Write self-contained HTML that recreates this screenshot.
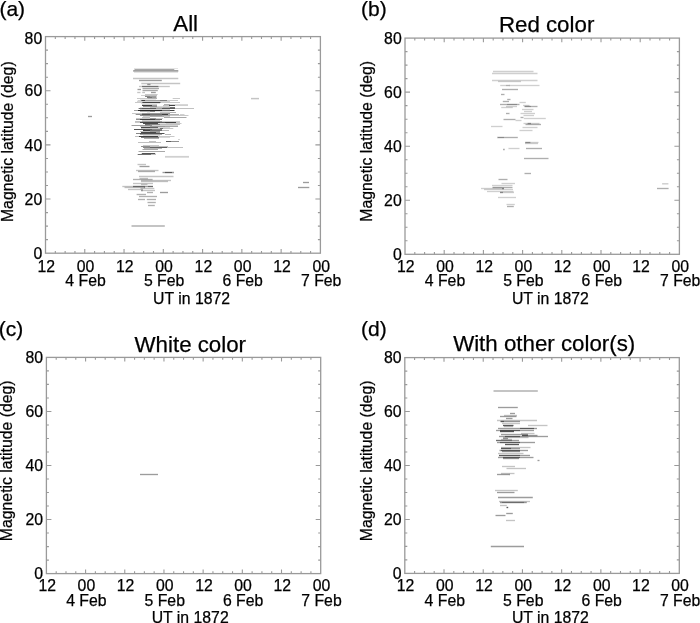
<!DOCTYPE html>
<html><head><meta charset="utf-8"><style>
html,body{margin:0;padding:0;background:#fff;}
body{width:700px;height:623px;overflow:hidden;}
svg{display:block;will-change:transform;}
text{font-family:"Liberation Sans", sans-serif;fill:#000;stroke:#000;stroke-width:0.25px;}
</style></head><body>
<svg width="700" height="623" viewBox="0 0 700 623">
<g stroke="#000"><path d="M134 68.5H178" stroke-opacity="0.106" stroke-width="1"/>
<path d="M134.5 69.5H174.3" stroke-opacity="0.341" stroke-width="1"/>
<path d="M133.2 70.5H178.3" stroke-opacity="0.373" stroke-width="1"/>
<path d="M133.2 71.5H178.3" stroke-opacity="0.278" stroke-width="1"/>
<path d="M134 72.5H178" stroke-opacity="0.106" stroke-width="1"/>
<path d="M133 78.5H178.3" stroke-opacity="0.231" stroke-width="1.35"/>
<path d="M139 80.5H161.8" stroke-opacity="0.388" stroke-width="1.35"/>
<path d="M141.3 83.5H180.2" stroke-opacity="0.231" stroke-width="1.35"/>
<path d="M147.2 84.5H150.5" stroke-opacity="0.388" stroke-width="1.35"/>
<path d="M139 86.5H142" stroke-opacity="0.231" stroke-width="1.35"/>
<path d="M142 86.5H158.5" stroke-opacity="0.561" stroke-width="1.35"/>
<path d="M158.5 86.5H169.8" stroke-opacity="0.231" stroke-width="1.35"/>
<path d="M142.5 88.5H159" stroke-opacity="0.341" stroke-width="1.35"/>
<path d="M137.5 89.5H141" stroke-opacity="0.388" stroke-width="1.35"/>
<path d="M142.5 90.5H157.8" stroke-opacity="0.341" stroke-width="1.35"/>
<path d="M137.2 92.5H140.5" stroke-opacity="0.231" stroke-width="1.35"/>
<path d="M142.2 92.5H145" stroke-opacity="0.231" stroke-width="1.35"/>
<path d="M151 92.5H155.8" stroke-opacity="0.388" stroke-width="1.35"/>
<path d="M145 94.5H157.7" stroke-opacity="0.216" stroke-width="1"/>
<path d="M141 95.5H145" stroke-opacity="0.184" stroke-width="1"/>
<path d="M145 95.5H157" stroke-opacity="0.247" stroke-width="1"/>
<path d="M145 96.5H150" stroke-opacity="0.467" stroke-width="1"/>
<path d="M150 96.5H156.5" stroke-opacity="0.373" stroke-width="1"/>
<path d="M147 97.5H152" stroke-opacity="0.533" stroke-width="1"/>
<path d="M152 97.5H156.5" stroke-opacity="0.400" stroke-width="1"/>
<path d="M137 98.5H147.5" stroke-opacity="0.216" stroke-width="1"/>
<path d="M147.5 98.5H157" stroke-opacity="0.294" stroke-width="1"/>
<path d="M172.7 98.5H180" stroke-opacity="0.216" stroke-width="1"/>
<path d="M140 99.5H156" stroke-opacity="0.090" stroke-width="1"/>
<path d="M137.7 100.5H141.3" stroke-opacity="0.184" stroke-width="1"/>
<path d="M141.3 100.5H145" stroke-opacity="0.729" stroke-width="1"/>
<path d="M145 100.5H160" stroke-opacity="0.373" stroke-width="1"/>
<path d="M160 100.5H167" stroke-opacity="0.498" stroke-width="1"/>
<path d="M167 100.5H170" stroke-opacity="0.184" stroke-width="1"/>
<path d="M170 100.5H178" stroke-opacity="0.216" stroke-width="1"/>
<path d="M137 101.5H170" stroke-opacity="0.169" stroke-width="1"/>
<path d="M135 102.5H142.3" stroke-opacity="0.216" stroke-width="1"/>
<path d="M142.3 102.5H160.5" stroke-opacity="0.729" stroke-width="1"/>
<path d="M160.5 102.5H180" stroke-opacity="0.216" stroke-width="1"/>
<path d="M141 103.5H160" stroke-opacity="0.106" stroke-width="1"/>
<path d="M142 104.5H157" stroke-opacity="0.184" stroke-width="1"/>
<path d="M164 104.5H170" stroke-opacity="0.310" stroke-width="1"/>
<path d="M170 104.5H188" stroke-opacity="0.153" stroke-width="1"/>
<path d="M142 105.5H152" stroke-opacity="0.749" stroke-width="1"/>
<path d="M152 105.5H157" stroke-opacity="0.373" stroke-width="1"/>
<path d="M163 105.5H169" stroke-opacity="0.247" stroke-width="1"/>
<path d="M169 105.5H175" stroke-opacity="0.749" stroke-width="1"/>
<path d="M175 105.5H188" stroke-opacity="0.184" stroke-width="1"/>
<path d="M143 106.5H157" stroke-opacity="0.435" stroke-width="1"/>
<path d="M157 106.5H163" stroke-opacity="0.153" stroke-width="1"/>
<path d="M163 106.5H170" stroke-opacity="0.184" stroke-width="1"/>
<path d="M140 107.5H150" stroke-opacity="0.122" stroke-width="1"/>
<path d="M150 107.5H163" stroke-opacity="0.247" stroke-width="1"/>
<path d="M163 107.5H170" stroke-opacity="0.310" stroke-width="1"/>
<path d="M170 107.5H175" stroke-opacity="0.561" stroke-width="1"/>
<path d="M138.6 108.5H142" stroke-opacity="0.561" stroke-width="1"/>
<path d="M142 108.5H156" stroke-opacity="0.647" stroke-width="1"/>
<path d="M156 108.5H162" stroke-opacity="0.373" stroke-width="1"/>
<path d="M162 108.5H175" stroke-opacity="0.647" stroke-width="1"/>
<path d="M175 108.5H194" stroke-opacity="0.247" stroke-width="1"/>
<path d="M140 109.5H162" stroke-opacity="0.184" stroke-width="1"/>
<path d="M162 109.5H170" stroke-opacity="0.153" stroke-width="1"/>
<path d="M134 110.5H138" stroke-opacity="0.373" stroke-width="1"/>
<path d="M138 110.5H162" stroke-opacity="0.843" stroke-width="1"/>
<path d="M162 110.5H170" stroke-opacity="0.561" stroke-width="1"/>
<path d="M170 110.5H174.5" stroke-opacity="0.749" stroke-width="1"/>
<path d="M140 111.5H150" stroke-opacity="0.310" stroke-width="1"/>
<path d="M150 111.5H155" stroke-opacity="0.467" stroke-width="1"/>
<path d="M155 111.5H170" stroke-opacity="0.122" stroke-width="1"/>
<path d="M147 112.5H150" stroke-opacity="0.090" stroke-width="1"/>
<path d="M160 112.5H170" stroke-opacity="0.216" stroke-width="1"/>
<path d="M170 112.5H176" stroke-opacity="0.310" stroke-width="1"/>
<path d="M132 113.5H142" stroke-opacity="0.216" stroke-width="1"/>
<path d="M142 113.5H170" stroke-opacity="0.404" stroke-width="1"/>
<path d="M135.7 114.5H142" stroke-opacity="0.435" stroke-width="1"/>
<path d="M142 114.5H150" stroke-opacity="0.667" stroke-width="1"/>
<path d="M150 114.5H162" stroke-opacity="0.561" stroke-width="1"/>
<path d="M162 114.5H168" stroke-opacity="0.749" stroke-width="1"/>
<path d="M168 114.5H179" stroke-opacity="0.310" stroke-width="1"/>
<path d="M180 114.5H184.5" stroke-opacity="0.184" stroke-width="1"/>
<path d="M140 115.5H162" stroke-opacity="0.435" stroke-width="1"/>
<path d="M162 115.5H170" stroke-opacity="0.341" stroke-width="1"/>
<path d="M170 115.5H188.5" stroke-opacity="0.216" stroke-width="1"/>
<path d="M143 116.5H150" stroke-opacity="0.184" stroke-width="1"/>
<path d="M150 116.5H164" stroke-opacity="0.310" stroke-width="1"/>
<path d="M164 116.5H170" stroke-opacity="0.184" stroke-width="1"/>
<path d="M88 116.5H92" stroke-opacity="0.388" stroke-width="1.35"/>
<path d="M142 117.5H150" stroke-opacity="0.247" stroke-width="1"/>
<path d="M164 117.5H186.5" stroke-opacity="0.341" stroke-width="1"/>
<path d="M136 118.5H150" stroke-opacity="0.216" stroke-width="1"/>
<path d="M150 118.5H156" stroke-opacity="0.400" stroke-width="1"/>
<path d="M156 118.5H163" stroke-opacity="0.184" stroke-width="1"/>
<path d="M136 119.5H140" stroke-opacity="0.435" stroke-width="1"/>
<path d="M140 119.5H155" stroke-opacity="0.749" stroke-width="1"/>
<path d="M155 119.5H162" stroke-opacity="0.561" stroke-width="1"/>
<path d="M142 120.5H160" stroke-opacity="0.184" stroke-width="1"/>
<path d="M135 121.5H142" stroke-opacity="0.247" stroke-width="1"/>
<path d="M142 121.5H162" stroke-opacity="0.373" stroke-width="1"/>
<path d="M162 121.5H180" stroke-opacity="0.184" stroke-width="1"/>
<path d="M135 122.5H140" stroke-opacity="0.216" stroke-width="1"/>
<path d="M140 122.5H160" stroke-opacity="0.718" stroke-width="1"/>
<path d="M160 122.5H165" stroke-opacity="0.624" stroke-width="1"/>
<path d="M165 122.5H176" stroke-opacity="0.749" stroke-width="1"/>
<path d="M176 122.5H180" stroke-opacity="0.216" stroke-width="1"/>
<path d="M143 123.5H158" stroke-opacity="0.702" stroke-width="1"/>
<path d="M158 123.5H166" stroke-opacity="0.122" stroke-width="1"/>
<path d="M166 123.5H181.5" stroke-opacity="0.216" stroke-width="1"/>
<path d="M145 124.5H150" stroke-opacity="0.561" stroke-width="1"/>
<path d="M150 124.5H160" stroke-opacity="0.467" stroke-width="1"/>
<path d="M160 124.5H180" stroke-opacity="0.247" stroke-width="1"/>
<path d="M131.5 125.5H145" stroke-opacity="0.373" stroke-width="1"/>
<path d="M145 125.5H152" stroke-opacity="0.435" stroke-width="1"/>
<path d="M152 125.5H178" stroke-opacity="0.169" stroke-width="1"/>
<path d="M140 126.5H150" stroke-opacity="0.247" stroke-width="1"/>
<path d="M150 126.5H165" stroke-opacity="0.400" stroke-width="1"/>
<path d="M165 126.5H178" stroke-opacity="0.341" stroke-width="1"/>
<path d="M141 127.5H150" stroke-opacity="0.729" stroke-width="1"/>
<path d="M150 127.5H158" stroke-opacity="0.624" stroke-width="1"/>
<path d="M158 127.5H170" stroke-opacity="0.153" stroke-width="1"/>
<path d="M141 128.5H160" stroke-opacity="0.216" stroke-width="1"/>
<path d="M160 128.5H163" stroke-opacity="0.561" stroke-width="1"/>
<path d="M163 128.5H173.3" stroke-opacity="0.216" stroke-width="1"/>
<path d="M134 129.5H145" stroke-opacity="0.667" stroke-width="1"/>
<path d="M145 129.5H152" stroke-opacity="0.604" stroke-width="1"/>
<path d="M152 129.5H162" stroke-opacity="0.467" stroke-width="1"/>
<path d="M143 130.5H150" stroke-opacity="0.749" stroke-width="1"/>
<path d="M150 130.5H162" stroke-opacity="0.561" stroke-width="1"/>
<path d="M162 130.5H169" stroke-opacity="0.278" stroke-width="1"/>
<path d="M140 131.5H150" stroke-opacity="0.247" stroke-width="1"/>
<path d="M150 131.5H160" stroke-opacity="0.400" stroke-width="1"/>
<path d="M141 132.5H156" stroke-opacity="0.718" stroke-width="1"/>
<path d="M156 132.5H160" stroke-opacity="0.400" stroke-width="1"/>
<path d="M136 133.5H140" stroke-opacity="0.467" stroke-width="1"/>
<path d="M140 133.5H164.5" stroke-opacity="0.686" stroke-width="1"/>
<path d="M140 134.5H162" stroke-opacity="0.341" stroke-width="1"/>
<path d="M165 134.5H171" stroke-opacity="0.278" stroke-width="1"/>
<path d="M143 135.5H160" stroke-opacity="0.137" stroke-width="1"/>
<path d="M135 136.5H139" stroke-opacity="0.247" stroke-width="1"/>
<path d="M139 136.5H158" stroke-opacity="0.749" stroke-width="1"/>
<path d="M158 136.5H174.5" stroke-opacity="0.216" stroke-width="1"/>
<path d="M141 137.5H159" stroke-opacity="0.514" stroke-width="1"/>
<path d="M159 137.5H170" stroke-opacity="0.153" stroke-width="1"/>
<path d="M144 138.5H159" stroke-opacity="0.310" stroke-width="1"/>
<path d="M178.2 139.5H179.8" stroke-opacity="0.216" stroke-width="1"/>
<path d="M149 141.5H156" stroke-opacity="0.247" stroke-width="1"/>
<path d="M166 141.5H171" stroke-opacity="0.624" stroke-width="1"/>
<path d="M171 141.5H179" stroke-opacity="0.435" stroke-width="1"/>
<path d="M138 142.5H161" stroke-opacity="0.247" stroke-width="1"/>
<path d="M143 145.5H159" stroke-opacity="0.216" stroke-width="1"/>
<path d="M141 146.5H150" stroke-opacity="0.435" stroke-width="1"/>
<path d="M150 146.5H168" stroke-opacity="0.247" stroke-width="1"/>
<path d="M143 147.5H150" stroke-opacity="0.467" stroke-width="1"/>
<path d="M150 147.5H167" stroke-opacity="0.624" stroke-width="1"/>
<path d="M167 147.5H183" stroke-opacity="0.247" stroke-width="1"/>
<path d="M144 148.5H162" stroke-opacity="0.278" stroke-width="1"/>
<path d="M142.5 149.5H158" stroke-opacity="0.341" stroke-width="1"/>
<path d="M138.5 151.5H165" stroke-opacity="0.341" stroke-width="1"/>
<path d="M141.8 153.5H155.2" stroke-opacity="0.667" stroke-width="1"/>
<path d="M137.7 154.5H151" stroke-opacity="0.561" stroke-width="1"/>
<path d="M151 154.5H156" stroke-opacity="0.247" stroke-width="1"/>
<path d="M137.5 164.5H146" stroke-opacity="0.231" stroke-width="1.35"/>
<path d="M139.5 166.5H149.5" stroke-opacity="0.388" stroke-width="1.35"/>
<path d="M136 170.5H158.5" stroke-opacity="0.231" stroke-width="1.35"/>
<path d="M138 171.5H155" stroke-opacity="0.310" stroke-width="1.35"/>
<path d="M162.5 172.5H165" stroke-opacity="0.388" stroke-width="1.35"/>
<path d="M165 172.5H172" stroke-opacity="0.647" stroke-width="1.35"/>
<path d="M172 172.5H174" stroke-opacity="0.388" stroke-width="1.35"/>
<path d="M139 176.5H173.5" stroke-opacity="0.231" stroke-width="1.35"/>
<path d="M139.5 178.5H148" stroke-opacity="0.231" stroke-width="1.35"/>
<path d="M133 179.5H152.6" stroke-opacity="0.310" stroke-width="1.35"/>
<path d="M141 180.5H171" stroke-opacity="0.231" stroke-width="1.35"/>
<path d="M141 181.5H168" stroke-opacity="0.231" stroke-width="1.35"/>
<path d="M303 182.5H309" stroke-opacity="0.388" stroke-width="1.35"/>
<path d="M133 183.5H153" stroke-opacity="0.231" stroke-width="1.35"/>
<path d="M141 184.5H147.5" stroke-opacity="0.231" stroke-width="1.35"/>
<path d="M122.3 186.5H133" stroke-opacity="0.231" stroke-width="1.35"/>
<path d="M133 186.5H145" stroke-opacity="0.584" stroke-width="1.35"/>
<path d="M145 186.5H148" stroke-opacity="0.388" stroke-width="1.35"/>
<path d="M148 186.5H153" stroke-opacity="0.584" stroke-width="1.35"/>
<path d="M124.5 187.5H143" stroke-opacity="0.231" stroke-width="1.35"/>
<path d="M143.4 187.5H145.1" stroke-opacity="0.388" stroke-width="1.35"/>
<path d="M298 187.5H309.3" stroke-opacity="0.388" stroke-width="1.35"/>
<path d="M140.5 188.5H154.3" stroke-opacity="0.231" stroke-width="1.35"/>
<path d="M128 189.5H143" stroke-opacity="0.231" stroke-width="1.35"/>
<path d="M141 190.5H143" stroke-opacity="0.388" stroke-width="1.35"/>
<path d="M143 190.5H155" stroke-opacity="0.231" stroke-width="1.35"/>
<path d="M147 192.5H153" stroke-opacity="0.310" stroke-width="1.35"/>
<path d="M160 192.5H168" stroke-opacity="0.388" stroke-width="1.35"/>
<path d="M136.6 194.5H146" stroke-opacity="0.310" stroke-width="1.35"/>
<path d="M139 196.5H157" stroke-opacity="0.310" stroke-width="1.35"/>
<path d="M138 199.5H145" stroke-opacity="0.310" stroke-width="1.35"/>
<path d="M146.8 199.5H156" stroke-opacity="0.310" stroke-width="1.35"/>
<path d="M147.5 202.5H155.8" stroke-opacity="0.310" stroke-width="1.35"/>
<path d="M148 205.5H154.8" stroke-opacity="0.310" stroke-width="1.35"/>
<path d="M165 156.8H189" stroke-opacity="0.184" stroke-width="1.8"/>
<path d="M131.5 226H164.8" stroke-opacity="0.231" stroke-width="1.8"/>
<path d="M251 98.6H259" stroke-opacity="0.231" stroke-width="1.5"/></g>
<g stroke="#000"><path d="M493 71.5H533.5" stroke-opacity="0.190" stroke-width="1.35"/>
<path d="M492 73.5H537.5" stroke-opacity="0.190" stroke-width="1.35"/>
<path d="M492 80.5H537.5" stroke-opacity="0.190" stroke-width="1.35"/>
<path d="M498 81.5H521" stroke-opacity="0.190" stroke-width="1.35"/>
<path d="M500.2 85.5H506" stroke-opacity="0.190" stroke-width="1.35"/>
<path d="M506 85.5H510" stroke-opacity="0.318" stroke-width="1.35"/>
<path d="M510 85.5H539.5" stroke-opacity="0.190" stroke-width="1.35"/>
<path d="M502 89.5H518" stroke-opacity="0.318" stroke-width="1.35"/>
<path d="M501 94.5H504.5" stroke-opacity="0.318" stroke-width="1.35"/>
<path d="M507.2 99.5H510.5" stroke-opacity="0.318" stroke-width="1.35"/>
<path d="M502.8 101.5H509" stroke-opacity="0.318" stroke-width="1.35"/>
<path d="M519.5 102.5H525.8" stroke-opacity="0.190" stroke-width="1.35"/>
<path d="M500 104.5H507" stroke-opacity="0.318" stroke-width="1.35"/>
<path d="M507 104.5H517" stroke-opacity="0.460" stroke-width="1.35"/>
<path d="M517 104.5H519.5" stroke-opacity="0.318" stroke-width="1.35"/>
<path d="M523 105.5H529.5" stroke-opacity="0.190" stroke-width="1.35"/>
<path d="M506 106.5H517" stroke-opacity="0.190" stroke-width="1.35"/>
<path d="M524.5 106.5H531" stroke-opacity="0.460" stroke-width="1.35"/>
<path d="M531 106.5H537.5" stroke-opacity="0.318" stroke-width="1.35"/>
<path d="M501.2 107.5H512.8" stroke-opacity="0.190" stroke-width="1.35"/>
<path d="M522 109.5H533.5" stroke-opacity="0.190" stroke-width="1.35"/>
<path d="M524 111.5H532" stroke-opacity="0.190" stroke-width="1.35"/>
<path d="M506 113.5H509.5" stroke-opacity="0.318" stroke-width="1.35"/>
<path d="M520.5 113.5H535" stroke-opacity="0.190" stroke-width="1.35"/>
<path d="M523.5 115.5H534" stroke-opacity="0.190" stroke-width="1.35"/>
<path d="M520.5 117.5H523.5" stroke-opacity="0.318" stroke-width="1.35"/>
<path d="M523.8 118.5H545.8" stroke-opacity="0.190" stroke-width="1.35"/>
<path d="M503.5 119.5H515.5" stroke-opacity="0.318" stroke-width="1.35"/>
<path d="M515.5 120.5H521.5" stroke-opacity="0.190" stroke-width="1.35"/>
<path d="M523.5 123.5H527.5" stroke-opacity="0.190" stroke-width="1.35"/>
<path d="M527.5 123.5H531" stroke-opacity="0.460" stroke-width="1.35"/>
<path d="M531 123.5H539.5" stroke-opacity="0.190" stroke-width="1.35"/>
<path d="M525.5 124.5H541" stroke-opacity="0.318" stroke-width="1.35"/>
<path d="M491 126.5H502.5" stroke-opacity="0.190" stroke-width="1.35"/>
<path d="M522.5 127.5H537.5" stroke-opacity="0.190" stroke-width="1.35"/>
<path d="M519.5 130.5H532.5" stroke-opacity="0.190" stroke-width="1.35"/>
<path d="M497.2 137.5H498" stroke-opacity="0.318" stroke-width="1.35"/>
<path d="M498 137.5H504" stroke-opacity="0.460" stroke-width="1.35"/>
<path d="M504 137.5H517.8" stroke-opacity="0.318" stroke-width="1.35"/>
<path d="M525.2 142.5H530.5" stroke-opacity="0.460" stroke-width="1.35"/>
<path d="M530.5 142.5H538.5" stroke-opacity="0.190" stroke-width="1.35"/>
<path d="M525 143.5H538" stroke-opacity="0.190" stroke-width="1.35"/>
<path d="M508.5 148.5H519.5" stroke-opacity="0.190" stroke-width="1.35"/>
<path d="M526 148.5H542" stroke-opacity="0.318" stroke-width="1.35"/>
<path d="M503 149.5H504.8" stroke-opacity="0.318" stroke-width="1.35"/>
<path d="M524 158.5H548.5" stroke-opacity="0.318" stroke-width="1.35"/>
<path d="M524.5 173.5H531" stroke-opacity="0.318" stroke-width="1.35"/>
<path d="M498.5 179.5H507.5" stroke-opacity="0.318" stroke-width="1.35"/>
<path d="M501.5 183.5H515" stroke-opacity="0.190" stroke-width="1.35"/>
<path d="M492 185.5H512.5" stroke-opacity="0.190" stroke-width="1.35"/>
<path d="M492.5 187.5H502" stroke-opacity="0.383" stroke-width="1.35"/>
<path d="M502 187.5H512.5" stroke-opacity="0.318" stroke-width="1.35"/>
<path d="M481 188.5H502" stroke-opacity="0.190" stroke-width="1.35"/>
<path d="M502 188.5H504" stroke-opacity="0.460" stroke-width="1.35"/>
<path d="M657 188.5H668.6" stroke-opacity="0.318" stroke-width="1.35"/>
<path d="M484 189.5H513" stroke-opacity="0.190" stroke-width="1.35"/>
<path d="M487 191.5H513.5" stroke-opacity="0.190" stroke-width="1.35"/>
<path d="M500 192.5H503" stroke-opacity="0.460" stroke-width="1.35"/>
<path d="M503 192.5H514" stroke-opacity="0.190" stroke-width="1.35"/>
<path d="M498 197.5H516" stroke-opacity="0.190" stroke-width="1.35"/>
<path d="M506.5 204.5H514.8" stroke-opacity="0.190" stroke-width="1.35"/>
<path d="M507 206.5H513.8" stroke-opacity="0.318" stroke-width="1.35"/>
<path d="M662.1 183.8H668.4" stroke-opacity="0.190" stroke-width="1.5"/></g>
<g stroke="#000"><path d="M140 474.5H158" stroke-opacity="0.388" stroke-width="1.35"/></g>
<g stroke="#000"><path d="M498 407.5H517.8" stroke-opacity="0.388" stroke-width="1.35"/>
<path d="M510 413.5H515" stroke-opacity="0.388" stroke-width="1.35"/>
<path d="M504 415.5H517" stroke-opacity="0.231" stroke-width="1.35"/>
<path d="M500 416.5H516.5" stroke-opacity="0.388" stroke-width="1.35"/>
<path d="M506 418.5H512.5" stroke-opacity="0.388" stroke-width="1.35"/>
<path d="M497 420.5H537" stroke-opacity="0.231" stroke-width="1.35"/>
<path d="M500.5 421.5H504" stroke-opacity="0.647" stroke-width="1.35"/>
<path d="M504 421.5H520" stroke-opacity="0.388" stroke-width="1.35"/>
<path d="M502 423.5H520" stroke-opacity="0.231" stroke-width="1.35"/>
<path d="M503 425.5H513.5" stroke-opacity="0.647" stroke-width="1.35"/>
<path d="M528 425.5H547.5" stroke-opacity="0.231" stroke-width="1.35"/>
<path d="M504 426.5H513" stroke-opacity="0.231" stroke-width="1.35"/>
<path d="M498 428.5H520" stroke-opacity="0.388" stroke-width="1.35"/>
<path d="M520 428.5H534" stroke-opacity="0.647" stroke-width="1.35"/>
<path d="M534 428.5H537" stroke-opacity="0.388" stroke-width="1.35"/>
<path d="M496 430.5H500" stroke-opacity="0.388" stroke-width="1.35"/>
<path d="M500 430.5H520" stroke-opacity="0.647" stroke-width="1.35"/>
<path d="M520 430.5H534" stroke-opacity="0.388" stroke-width="1.35"/>
<path d="M500 431.5H514" stroke-opacity="0.647" stroke-width="1.35"/>
<path d="M521 433.5H534.5" stroke-opacity="0.231" stroke-width="1.35"/>
<path d="M501 434.5H528" stroke-opacity="0.388" stroke-width="1.35"/>
<path d="M522 435.5H528" stroke-opacity="0.647" stroke-width="1.35"/>
<path d="M528 435.5H537.5" stroke-opacity="0.388" stroke-width="1.35"/>
<path d="M499 436.5H505" stroke-opacity="0.388" stroke-width="1.35"/>
<path d="M505 436.5H520" stroke-opacity="0.647" stroke-width="1.35"/>
<path d="M520 436.5H548" stroke-opacity="0.388" stroke-width="1.35"/>
<path d="M503 437.5H528.5" stroke-opacity="0.231" stroke-width="1.35"/>
<path d="M503 438.5H508" stroke-opacity="0.388" stroke-width="1.35"/>
<path d="M501 439.5H512" stroke-opacity="0.231" stroke-width="1.35"/>
<path d="M496 440.5H512" stroke-opacity="0.561" stroke-width="1.35"/>
<path d="M512 440.5H519" stroke-opacity="0.388" stroke-width="1.35"/>
<path d="M497 442.5H500" stroke-opacity="0.388" stroke-width="1.35"/>
<path d="M500 442.5H520" stroke-opacity="0.647" stroke-width="1.35"/>
<path d="M520 442.5H535" stroke-opacity="0.388" stroke-width="1.35"/>
<path d="M505 444.5H519" stroke-opacity="0.647" stroke-width="1.35"/>
<path d="M501 447.5H530.5" stroke-opacity="0.231" stroke-width="1.35"/>
<path d="M501 448.5H511" stroke-opacity="0.647" stroke-width="1.35"/>
<path d="M511 448.5H520" stroke-opacity="0.388" stroke-width="1.35"/>
<path d="M499.5 450.5H501" stroke-opacity="0.388" stroke-width="1.35"/>
<path d="M501 450.5H520" stroke-opacity="0.647" stroke-width="1.35"/>
<path d="M520 450.5H528" stroke-opacity="0.388" stroke-width="1.35"/>
<path d="M502 451.5H520" stroke-opacity="0.388" stroke-width="1.35"/>
<path d="M498 453.5H523.5" stroke-opacity="0.231" stroke-width="1.35"/>
<path d="M499 455.5H520" stroke-opacity="0.647" stroke-width="1.35"/>
<path d="M520 455.5H530" stroke-opacity="0.388" stroke-width="1.35"/>
<path d="M498 457.5H503" stroke-opacity="0.388" stroke-width="1.35"/>
<path d="M503 457.5H520" stroke-opacity="0.647" stroke-width="1.35"/>
<path d="M520 457.5H533.5" stroke-opacity="0.388" stroke-width="1.35"/>
<path d="M503 458.5H519" stroke-opacity="0.388" stroke-width="1.35"/>
<path d="M537.5 460.5H539.5" stroke-opacity="0.388" stroke-width="1.35"/>
<path d="M502 466.5H515" stroke-opacity="0.231" stroke-width="1.35"/>
<path d="M506.5 468.5H526" stroke-opacity="0.231" stroke-width="1.35"/>
<path d="M501 473.5H514.5" stroke-opacity="0.231" stroke-width="1.35"/>
<path d="M497 474.5H510" stroke-opacity="0.388" stroke-width="1.35"/>
<path d="M495 490.5H517.8" stroke-opacity="0.231" stroke-width="1.35"/>
<path d="M497 492.5H514.5" stroke-opacity="0.388" stroke-width="1.35"/>
<path d="M498 497.5H532.8" stroke-opacity="0.388" stroke-width="1.35"/>
<path d="M499 501.5H530" stroke-opacity="0.231" stroke-width="1.35"/>
<path d="M500 502.5H502" stroke-opacity="0.388" stroke-width="1.35"/>
<path d="M502 502.5H524" stroke-opacity="0.561" stroke-width="1.35"/>
<path d="M524 502.5H526.8" stroke-opacity="0.388" stroke-width="1.35"/>
<path d="M500 505.5H506.8" stroke-opacity="0.231" stroke-width="1.35"/>
<path d="M506.5 507.5H508.2" stroke-opacity="0.647" stroke-width="1.35"/>
<path d="M506.2 513.5H512.8" stroke-opacity="0.388" stroke-width="1.35"/>
<path d="M495.5 515.5H505.5" stroke-opacity="0.388" stroke-width="1.35"/>
<path d="M506 520.5H515" stroke-opacity="0.231" stroke-width="1.35"/>
<path d="M490.8 546.5H524" stroke-opacity="0.388" stroke-width="1.35"/>
<path d="M493.5 391H537.8" stroke-opacity="0.231" stroke-width="1.8"/></g>
<rect x="45.5" y="36.6" width="274.9" height="216.6" fill="none" stroke="#9a9a9a" stroke-width="1.3"/>
<path d="M55.32 253.2v-2.3M55.32 36.6v2.3M65.14 253.2v-2.3M65.14 36.6v2.3M74.95 253.2v-2.3M74.95 36.6v2.3M84.77 253.2v-4.2M84.77 36.6v4.2M94.59 253.2v-2.3M94.59 36.6v2.3M104.41 253.2v-2.3M104.41 36.6v2.3M114.22 253.2v-2.3M114.22 36.6v2.3M124.04 253.2v-4.2M124.04 36.6v4.2M133.86 253.2v-2.3M133.86 36.6v2.3M143.68 253.2v-2.3M143.68 36.6v2.3M153.5 253.2v-2.3M153.5 36.6v2.3M163.31 253.2v-4.2M163.31 36.6v4.2M173.13 253.2v-2.3M173.13 36.6v2.3M182.95 253.2v-2.3M182.95 36.6v2.3M192.77 253.2v-2.3M192.77 36.6v2.3M202.59 253.2v-4.2M202.59 36.6v4.2M212.4 253.2v-2.3M212.4 36.6v2.3M222.22 253.2v-2.3M222.22 36.6v2.3M232.04 253.2v-2.3M232.04 36.6v2.3M241.86 253.2v-4.2M241.86 36.6v4.2M251.67 253.2v-2.3M251.67 36.6v2.3M261.49 253.2v-2.3M261.49 36.6v2.3M271.31 253.2v-2.3M271.31 36.6v2.3M281.13 253.2v-4.2M281.13 36.6v4.2M290.95 253.2v-2.3M290.95 36.6v2.3M300.76 253.2v-2.3M300.76 36.6v2.3M310.58 253.2v-2.3M310.58 36.6v2.3M45.5 239.66h2.5M320.4 239.66h-2.5M45.5 226.12h2.5M320.4 226.12h-2.5M45.5 212.59h2.5M320.4 212.59h-2.5M45.5 199.05h5M320.4 199.05h-5M45.5 185.51h2.5M320.4 185.51h-2.5M45.5 171.97h2.5M320.4 171.97h-2.5M45.5 158.44h2.5M320.4 158.44h-2.5M45.5 144.9h5M320.4 144.9h-5M45.5 131.36h2.5M320.4 131.36h-2.5M45.5 117.82h2.5M320.4 117.82h-2.5M45.5 104.29h2.5M320.4 104.29h-2.5M45.5 90.75h5M320.4 90.75h-5M45.5 77.21h2.5M320.4 77.21h-2.5M45.5 63.67h2.5M320.4 63.67h-2.5M45.5 50.14h2.5M320.4 50.14h-2.5" stroke="#9a9a9a" stroke-width="1.1" fill="none"/>
<text x="42.2" y="258.9" text-anchor="end" font-size="15.8">0</text>
<text x="42.2" y="204.75" text-anchor="end" font-size="15.8">20</text>
<text x="42.2" y="150.6" text-anchor="end" font-size="15.8">40</text>
<text x="42.2" y="96.45" text-anchor="end" font-size="15.8">60</text>
<text x="42.2" y="44.1" text-anchor="end" font-size="15.8">80</text>
<text x="46.3" y="271.5" text-anchor="middle" font-size="15.8">12</text>
<text x="85.57" y="271.5" text-anchor="middle" font-size="15.8">00</text>
<text x="124.84" y="271.5" text-anchor="middle" font-size="15.8">12</text>
<text x="164.11" y="271.5" text-anchor="middle" font-size="15.8">00</text>
<text x="203.39" y="271.5" text-anchor="middle" font-size="15.8">12</text>
<text x="242.66" y="271.5" text-anchor="middle" font-size="15.8">00</text>
<text x="281.93" y="271.5" text-anchor="middle" font-size="15.8">12</text>
<text x="321.2" y="271.5" text-anchor="middle" font-size="15.8">00</text>
<text x="85.57" y="285.9" text-anchor="middle" font-size="15.8">4 Feb</text>
<text x="164.11" y="285.9" text-anchor="middle" font-size="15.8">5 Feb</text>
<text x="242.66" y="285.9" text-anchor="middle" font-size="15.8">6 Feb</text>
<text x="321.2" y="285.9" text-anchor="middle" font-size="15.8">7 Feb</text>
<text x="191.6" y="303.8" text-anchor="middle" font-size="15.8">UT in 1872</text>
<text transform="translate(12.8 141.7) rotate(-90)" text-anchor="middle" font-size="15.8">Magnetic latitude (deg)</text>
<text x="185.7" y="30.7" text-anchor="middle" font-size="22.3">All</text>
<text x="-0.6" y="16.2" font-size="21">(a)</text>
<rect x="405" y="38.1" width="274.4" height="216.2" fill="none" stroke="#9a9a9a" stroke-width="1.3"/>
<path d="M414.8 254.3v-2.3M414.8 38.1v2.3M424.6 254.3v-2.3M424.6 38.1v2.3M434.4 254.3v-2.3M434.4 38.1v2.3M444.2 254.3v-4.2M444.2 38.1v4.2M454 254.3v-2.3M454 38.1v2.3M463.8 254.3v-2.3M463.8 38.1v2.3M473.6 254.3v-2.3M473.6 38.1v2.3M483.4 254.3v-4.2M483.4 38.1v4.2M493.2 254.3v-2.3M493.2 38.1v2.3M503 254.3v-2.3M503 38.1v2.3M512.8 254.3v-2.3M512.8 38.1v2.3M522.6 254.3v-4.2M522.6 38.1v4.2M532.4 254.3v-2.3M532.4 38.1v2.3M542.2 254.3v-2.3M542.2 38.1v2.3M552 254.3v-2.3M552 38.1v2.3M561.8 254.3v-4.2M561.8 38.1v4.2M571.6 254.3v-2.3M571.6 38.1v2.3M581.4 254.3v-2.3M581.4 38.1v2.3M591.2 254.3v-2.3M591.2 38.1v2.3M601 254.3v-4.2M601 38.1v4.2M610.8 254.3v-2.3M610.8 38.1v2.3M620.6 254.3v-2.3M620.6 38.1v2.3M630.4 254.3v-2.3M630.4 38.1v2.3M640.2 254.3v-4.2M640.2 38.1v4.2M650 254.3v-2.3M650 38.1v2.3M659.8 254.3v-2.3M659.8 38.1v2.3M669.6 254.3v-2.3M669.6 38.1v2.3M405 240.79h2.5M679.4 240.79h-2.5M405 227.28h2.5M679.4 227.28h-2.5M405 213.76h2.5M679.4 213.76h-2.5M405 200.25h5M679.4 200.25h-5M405 186.74h2.5M679.4 186.74h-2.5M405 173.23h2.5M679.4 173.23h-2.5M405 159.71h2.5M679.4 159.71h-2.5M405 146.2h5M679.4 146.2h-5M405 132.69h2.5M679.4 132.69h-2.5M405 119.18h2.5M679.4 119.18h-2.5M405 105.66h2.5M679.4 105.66h-2.5M405 92.15h5M679.4 92.15h-5M405 78.64h2.5M679.4 78.64h-2.5M405 65.12h2.5M679.4 65.12h-2.5M405 51.61h2.5M679.4 51.61h-2.5" stroke="#9a9a9a" stroke-width="1.1" fill="none"/>
<text x="401.7" y="260" text-anchor="end" font-size="15.8">0</text>
<text x="401.7" y="205.95" text-anchor="end" font-size="15.8">20</text>
<text x="401.7" y="151.9" text-anchor="end" font-size="15.8">40</text>
<text x="401.7" y="97.85" text-anchor="end" font-size="15.8">60</text>
<text x="401.7" y="43.8" text-anchor="end" font-size="15.8">80</text>
<text x="405.8" y="271.5" text-anchor="middle" font-size="15.8">12</text>
<text x="445" y="271.5" text-anchor="middle" font-size="15.8">00</text>
<text x="484.2" y="271.5" text-anchor="middle" font-size="15.8">12</text>
<text x="523.4" y="271.5" text-anchor="middle" font-size="15.8">00</text>
<text x="562.6" y="271.5" text-anchor="middle" font-size="15.8">12</text>
<text x="601.8" y="271.5" text-anchor="middle" font-size="15.8">00</text>
<text x="641" y="271.5" text-anchor="middle" font-size="15.8">12</text>
<text x="680.2" y="271.5" text-anchor="middle" font-size="15.8">00</text>
<text x="445" y="285.9" text-anchor="middle" font-size="15.8">4 Feb</text>
<text x="523.4" y="285.9" text-anchor="middle" font-size="15.8">5 Feb</text>
<text x="601.8" y="285.9" text-anchor="middle" font-size="15.8">6 Feb</text>
<text x="680.2" y="285.9" text-anchor="middle" font-size="15.8">7 Feb</text>
<text x="550.4" y="303.8" text-anchor="middle" font-size="15.8">UT in 1872</text>
<text transform="translate(372 141.3) rotate(-90)" text-anchor="middle" font-size="15.8">Magnetic latitude (deg)</text>
<text x="546.6" y="32.1" text-anchor="middle" font-size="22.3">Red color</text>
<text x="361" y="16.2" font-size="21">(b)</text>
<rect x="46.4" y="357.4" width="274.3" height="216.2" fill="none" stroke="#9a9a9a" stroke-width="1.3"/>
<path d="M56.2 573.6v-2.3M56.2 357.4v2.3M65.99 573.6v-2.3M65.99 357.4v2.3M75.79 573.6v-2.3M75.79 357.4v2.3M85.59 573.6v-4.2M85.59 357.4v4.2M95.38 573.6v-2.3M95.38 357.4v2.3M105.18 573.6v-2.3M105.18 357.4v2.3M114.97 573.6v-2.3M114.97 357.4v2.3M124.77 573.6v-4.2M124.77 357.4v4.2M134.57 573.6v-2.3M134.57 357.4v2.3M144.36 573.6v-2.3M144.36 357.4v2.3M154.16 573.6v-2.3M154.16 357.4v2.3M163.96 573.6v-4.2M163.96 357.4v4.2M173.75 573.6v-2.3M173.75 357.4v2.3M183.55 573.6v-2.3M183.55 357.4v2.3M193.35 573.6v-2.3M193.35 357.4v2.3M203.14 573.6v-4.2M203.14 357.4v4.2M212.94 573.6v-2.3M212.94 357.4v2.3M222.74 573.6v-2.3M222.74 357.4v2.3M232.53 573.6v-2.3M232.53 357.4v2.3M242.33 573.6v-4.2M242.33 357.4v4.2M252.12 573.6v-2.3M252.12 357.4v2.3M261.92 573.6v-2.3M261.92 357.4v2.3M271.72 573.6v-2.3M271.72 357.4v2.3M281.51 573.6v-4.2M281.51 357.4v4.2M291.31 573.6v-2.3M291.31 357.4v2.3M301.11 573.6v-2.3M301.11 357.4v2.3M310.9 573.6v-2.3M310.9 357.4v2.3M46.4 560.09h2.5M320.7 560.09h-2.5M46.4 546.58h2.5M320.7 546.58h-2.5M46.4 533.06h2.5M320.7 533.06h-2.5M46.4 519.55h5M320.7 519.55h-5M46.4 506.04h2.5M320.7 506.04h-2.5M46.4 492.52h2.5M320.7 492.52h-2.5M46.4 479.01h2.5M320.7 479.01h-2.5M46.4 465.5h5M320.7 465.5h-5M46.4 451.99h2.5M320.7 451.99h-2.5M46.4 438.48h2.5M320.7 438.48h-2.5M46.4 424.96h2.5M320.7 424.96h-2.5M46.4 411.45h5M320.7 411.45h-5M46.4 397.94h2.5M320.7 397.94h-2.5M46.4 384.42h2.5M320.7 384.42h-2.5M46.4 370.91h2.5M320.7 370.91h-2.5" stroke="#9a9a9a" stroke-width="1.1" fill="none"/>
<text x="43.1" y="579.3" text-anchor="end" font-size="15.8">0</text>
<text x="43.1" y="525.25" text-anchor="end" font-size="15.8">20</text>
<text x="43.1" y="471.2" text-anchor="end" font-size="15.8">40</text>
<text x="43.1" y="417.15" text-anchor="end" font-size="15.8">60</text>
<text x="43.1" y="363.1" text-anchor="end" font-size="15.8">80</text>
<text x="47.2" y="590.8" text-anchor="middle" font-size="15.8">12</text>
<text x="86.39" y="590.8" text-anchor="middle" font-size="15.8">00</text>
<text x="125.57" y="590.8" text-anchor="middle" font-size="15.8">12</text>
<text x="164.76" y="590.8" text-anchor="middle" font-size="15.8">00</text>
<text x="203.94" y="590.8" text-anchor="middle" font-size="15.8">12</text>
<text x="243.13" y="590.8" text-anchor="middle" font-size="15.8">00</text>
<text x="282.31" y="590.8" text-anchor="middle" font-size="15.8">12</text>
<text x="321.5" y="590.8" text-anchor="middle" font-size="15.8">00</text>
<text x="86.39" y="605.9" text-anchor="middle" font-size="15.8">4 Feb</text>
<text x="164.76" y="605.9" text-anchor="middle" font-size="15.8">5 Feb</text>
<text x="243.13" y="605.9" text-anchor="middle" font-size="15.8">6 Feb</text>
<text x="321.5" y="605.9" text-anchor="middle" font-size="15.8">7 Feb</text>
<text x="190.2" y="622.6" text-anchor="middle" font-size="15.8">UT in 1872</text>
<text transform="translate(11.9 460.8) rotate(-90)" text-anchor="middle" font-size="15.8">Magnetic latitude (deg)</text>
<text x="190.3" y="352" text-anchor="middle" font-size="22.3">White color</text>
<text x="-1.2" y="335.6" font-size="21">(c)</text>
<rect x="404.8" y="357.6" width="274.5" height="215.8" fill="none" stroke="#9a9a9a" stroke-width="1.3"/>
<path d="M414.6 573.4v-2.3M414.6 357.6v2.3M424.41 573.4v-2.3M424.41 357.6v2.3M434.21 573.4v-2.3M434.21 357.6v2.3M444.01 573.4v-4.2M444.01 357.6v4.2M453.82 573.4v-2.3M453.82 357.6v2.3M463.62 573.4v-2.3M463.62 357.6v2.3M473.43 573.4v-2.3M473.43 357.6v2.3M483.23 573.4v-4.2M483.23 357.6v4.2M493.03 573.4v-2.3M493.03 357.6v2.3M502.84 573.4v-2.3M502.84 357.6v2.3M512.64 573.4v-2.3M512.64 357.6v2.3M522.44 573.4v-4.2M522.44 357.6v4.2M532.25 573.4v-2.3M532.25 357.6v2.3M542.05 573.4v-2.3M542.05 357.6v2.3M551.85 573.4v-2.3M551.85 357.6v2.3M561.66 573.4v-4.2M561.66 357.6v4.2M571.46 573.4v-2.3M571.46 357.6v2.3M581.26 573.4v-2.3M581.26 357.6v2.3M591.07 573.4v-2.3M591.07 357.6v2.3M600.87 573.4v-4.2M600.87 357.6v4.2M610.67 573.4v-2.3M610.67 357.6v2.3M620.48 573.4v-2.3M620.48 357.6v2.3M630.28 573.4v-2.3M630.28 357.6v2.3M640.09 573.4v-4.2M640.09 357.6v4.2M649.89 573.4v-2.3M649.89 357.6v2.3M659.69 573.4v-2.3M659.69 357.6v2.3M669.5 573.4v-2.3M669.5 357.6v2.3M404.8 559.91h2.5M679.3 559.91h-2.5M404.8 546.42h2.5M679.3 546.42h-2.5M404.8 532.94h2.5M679.3 532.94h-2.5M404.8 519.45h5M679.3 519.45h-5M404.8 505.96h2.5M679.3 505.96h-2.5M404.8 492.48h2.5M679.3 492.48h-2.5M404.8 478.99h2.5M679.3 478.99h-2.5M404.8 465.5h5M679.3 465.5h-5M404.8 452.01h2.5M679.3 452.01h-2.5M404.8 438.52h2.5M679.3 438.52h-2.5M404.8 425.04h2.5M679.3 425.04h-2.5M404.8 411.55h5M679.3 411.55h-5M404.8 398.06h2.5M679.3 398.06h-2.5M404.8 384.58h2.5M679.3 384.58h-2.5M404.8 371.09h2.5M679.3 371.09h-2.5" stroke="#9a9a9a" stroke-width="1.1" fill="none"/>
<text x="401.5" y="579.1" text-anchor="end" font-size="15.8">0</text>
<text x="401.5" y="525.15" text-anchor="end" font-size="15.8">20</text>
<text x="401.5" y="471.2" text-anchor="end" font-size="15.8">40</text>
<text x="401.5" y="417.25" text-anchor="end" font-size="15.8">60</text>
<text x="401.5" y="363.3" text-anchor="end" font-size="15.8">80</text>
<text x="405.6" y="590.8" text-anchor="middle" font-size="15.8">12</text>
<text x="444.81" y="590.8" text-anchor="middle" font-size="15.8">00</text>
<text x="484.03" y="590.8" text-anchor="middle" font-size="15.8">12</text>
<text x="523.24" y="590.8" text-anchor="middle" font-size="15.8">00</text>
<text x="562.46" y="590.8" text-anchor="middle" font-size="15.8">12</text>
<text x="601.67" y="590.8" text-anchor="middle" font-size="15.8">00</text>
<text x="640.89" y="590.8" text-anchor="middle" font-size="15.8">12</text>
<text x="680.1" y="590.8" text-anchor="middle" font-size="15.8">00</text>
<text x="444.81" y="605.9" text-anchor="middle" font-size="15.8">4 Feb</text>
<text x="523.24" y="605.9" text-anchor="middle" font-size="15.8">5 Feb</text>
<text x="601.67" y="605.9" text-anchor="middle" font-size="15.8">6 Feb</text>
<text x="680.1" y="605.9" text-anchor="middle" font-size="15.8">7 Feb</text>
<text x="550.4" y="622.6" text-anchor="middle" font-size="15.8">UT in 1872</text>
<text transform="translate(371.9 460.9) rotate(-90)" text-anchor="middle" font-size="15.8">Magnetic latitude (deg)</text>
<text x="544.2" y="351" text-anchor="middle" font-size="22.3">With other color(s)</text>
<text x="361" y="335.6" font-size="21">(d)</text>
</svg>
</body></html>
